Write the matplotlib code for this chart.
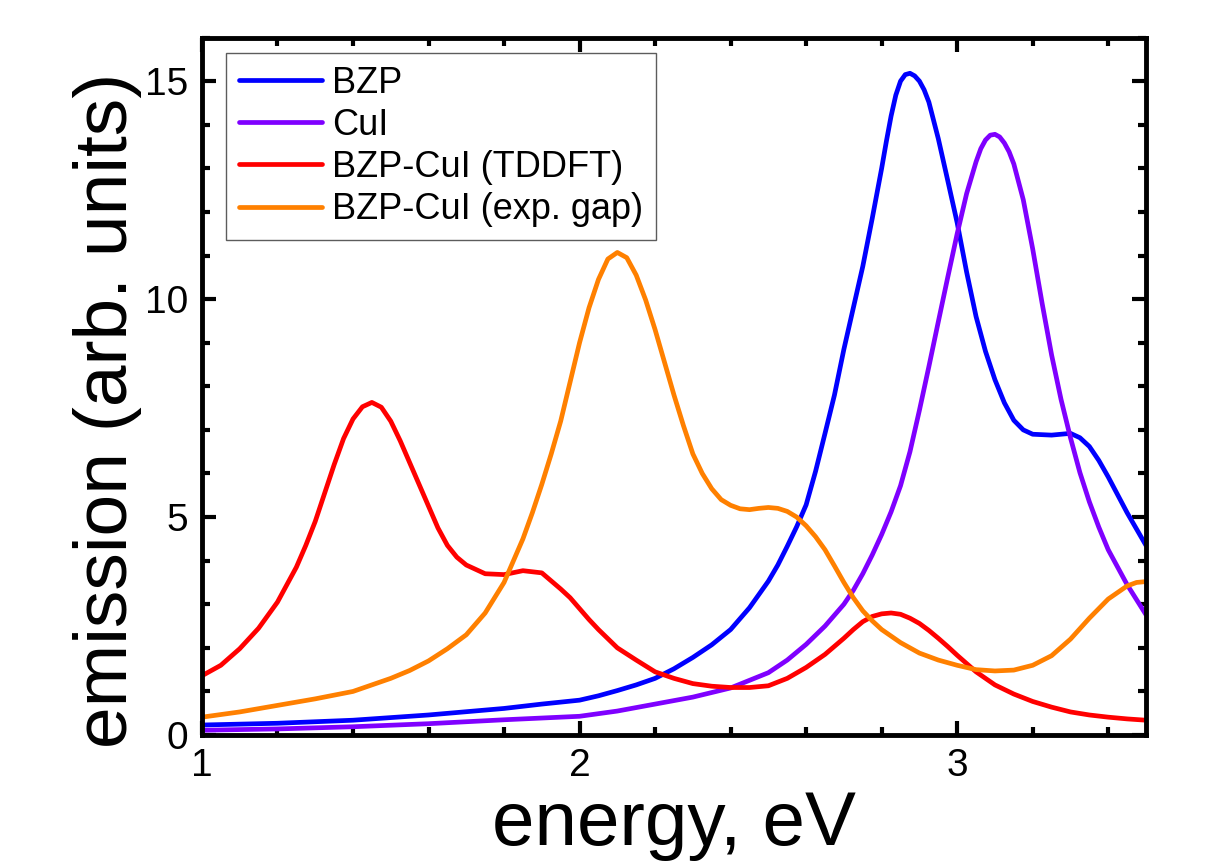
import matplotlib
matplotlib.use("Agg")
import matplotlib.pyplot as plt
from matplotlib.ticker import MultipleLocator

plt.rcParams["font.family"] = ["Liberation Sans", "DejaVu Sans"]

# values
energy_bzp = [1.0, 1.2, 1.4, 1.6, 1.8, 1.9, 2.0, 2.05, 2.1, 2.15, 2.2, 2.25, 2.3, 2.35,
              2.4, 2.45, 2.5, 2.525, 2.55, 2.575, 2.6, 2.625, 2.65, 2.675, 2.7, 2.725,
              2.75, 2.775, 2.8, 2.8125, 2.825, 2.8375, 2.85, 2.8625, 2.875, 2.8875,
              2.9, 2.9125, 2.925, 2.95, 2.975, 3.0, 3.025, 3.05, 3.075, 3.1, 3.125,
              3.15, 3.175, 3.2, 3.25, 3.3, 3.325, 3.35, 3.375, 3.4, 3.45, 3.5]
emission_bzp = [0.23, 0.27, 0.34, 0.46, 0.61, 0.71, 0.80, 0.90, 1.02, 1.15, 1.30, 1.52,
                1.78, 2.07, 2.42, 2.92, 3.53, 3.9, 4.33, 4.78, 5.28, 6.05, 6.92, 7.8,
                8.85, 9.8, 10.75, 11.85, 13.0, 13.62, 14.2, 14.68, 15.0, 15.15, 15.18,
                15.12, 15.0, 14.8, 14.52, 13.68, 12.72, 11.75, 10.62, 9.6, 8.8, 8.15,
                7.62, 7.22, 7.0, 6.9, 6.88, 6.92, 6.82, 6.62, 6.3, 5.92, 5.1, 4.35]

energy_cui = [1.0, 1.2, 1.4, 1.6, 1.8, 2.0, 2.1, 2.2, 2.3, 2.4, 2.5, 2.55, 2.6, 2.65,
              2.7, 2.725, 2.75, 2.775, 2.8, 2.825, 2.85, 2.875, 2.9, 2.925, 2.95,
              2.975, 3.0, 3.025, 3.05, 3.0625, 3.075, 3.0875, 3.1, 3.1125, 3.125,
              3.1375, 3.15, 3.175, 3.2, 3.225, 3.25, 3.275, 3.3, 3.325, 3.35, 3.375,
              3.4, 3.45, 3.5]
emission_cui = [0.11, 0.14, 0.19, 0.26, 0.35, 0.43, 0.55, 0.71, 0.87, 1.08, 1.43, 1.72,
                2.08, 2.5, 3.0, 3.32, 3.7, 4.13, 4.6, 5.12, 5.72, 6.5, 7.45, 8.45,
                9.48, 10.5, 11.5, 12.42, 13.15, 13.45, 13.65, 13.76, 13.78, 13.72,
                13.58, 13.38, 13.1, 12.28, 11.15, 9.9, 8.72, 7.7, 6.82, 6.02, 5.35,
                4.77, 4.25, 3.45, 2.76]

energy_tddft = [1.0, 1.05, 1.1, 1.15, 1.2, 1.25, 1.275, 1.3, 1.325, 1.35, 1.375, 1.4,
                1.425, 1.45, 1.475, 1.5, 1.525, 1.55, 1.575, 1.6, 1.625, 1.65, 1.675,
                1.7, 1.75, 1.8, 1.85, 1.9, 1.95, 1.975, 2.0, 2.025, 2.05, 2.1, 2.15,
                2.2, 2.25, 2.3, 2.35, 2.4, 2.45, 2.5, 2.55, 2.6, 2.65, 2.7, 2.725, 2.75,
                2.775, 2.8, 2.825, 2.85, 2.875, 2.9, 2.925, 2.95, 2.975, 3.0, 3.05,
                3.1, 3.15, 3.2, 3.25, 3.3, 3.35, 3.4, 3.45, 3.5]
emission_tddft = [1.36, 1.6, 1.98, 2.45, 3.05, 3.85, 4.35, 4.9, 5.55, 6.2, 6.8, 7.25,
                  7.53, 7.63, 7.52, 7.2, 6.75, 6.25, 5.75, 5.25, 4.75, 4.35, 4.08, 3.9,
                  3.7, 3.68, 3.77, 3.72, 3.35, 3.15, 2.9, 2.65, 2.42, 2.0, 1.72, 1.45,
                  1.3, 1.18, 1.12, 1.09, 1.09, 1.13, 1.3, 1.55, 1.85, 2.22, 2.42, 2.6,
                  2.72, 2.78, 2.8, 2.77, 2.68, 2.56, 2.4, 2.22, 2.03, 1.83, 1.45, 1.15,
                  0.94, 0.77, 0.64, 0.53, 0.46, 0.41, 0.37, 0.34]

energy_gap = [1.0, 1.1, 1.2, 1.3, 1.4, 1.5, 1.55, 1.6, 1.65, 1.7, 1.75, 1.8, 1.825,
              1.85, 1.875, 1.9, 1.925, 1.95, 1.975, 2.0, 2.025, 2.05, 2.075, 2.1,
              2.125, 2.15, 2.175, 2.2, 2.225, 2.25, 2.275, 2.3, 2.325, 2.35, 2.375,
              2.4, 2.425, 2.45, 2.475, 2.5, 2.525, 2.55, 2.575, 2.6, 2.625, 2.65,
              2.675, 2.7, 2.725, 2.75, 2.775, 2.8, 2.85, 2.9, 2.95, 3.0, 3.05, 3.1,
              3.15, 3.2, 3.25, 3.3, 3.35, 3.4, 3.45, 3.475, 3.5]
emission_gap = [0.41, 0.53, 0.68, 0.83, 1.0, 1.3, 1.48, 1.7, 1.98, 2.3, 2.8, 3.5, 4.0,
                4.5, 5.1, 5.75, 6.45, 7.2, 8.1, 9.0, 9.8, 10.45, 10.92, 11.07, 10.95,
                10.55, 9.98, 9.3, 8.55, 7.8, 7.1, 6.45, 6.0, 5.65, 5.4, 5.27, 5.19,
                5.17, 5.2, 5.22, 5.2, 5.13, 5.0, 4.8, 4.55, 4.25, 3.88, 3.5, 3.15,
                2.85, 2.62, 2.42, 2.12, 1.88, 1.72, 1.6, 1.5, 1.47, 1.49, 1.6, 1.82,
                2.2, 2.68, 3.12, 3.42, 3.5, 3.52]

series = [
    (energy_bzp, emission_bzp, "BZP", "#0000ff"),
    (energy_cui, emission_cui, "CuI", "#7f00ff"),
    (energy_tddft, emission_tddft, "BZP-CuI (TDDFT)", "#ff0000"),
    (energy_gap, emission_gap, "BZP-CuI (exp. gap)", "#ff8000"),
]

fig = plt.figure(figsize=(12.1, 8.61), dpi=100)
ax = fig.add_axes([0.1669, 0.1463, 0.7802, 0.8101])

for x, y, label, color in series:
    ax.plot(x, y, color=color, lw=3.4, label=label, solid_joinstyle="round",
            solid_capstyle="round")

ax.set_xlim(1, 3.5)
ax.set_ylim(0, 16)
ax.xaxis.set_major_locator(MultipleLocator(1))
ax.xaxis.set_minor_locator(MultipleLocator(0.2))
ax.yaxis.set_major_locator(MultipleLocator(5))
ax.yaxis.set_minor_locator(MultipleLocator(1))

for side in ax.spines.values():
    side.set_linewidth(3.5)

ax.tick_params(which="both", direction="in", top=True, right=True, width=3.0)
ax.tick_params(which="major", length=10, labelsize=28)
ax.tick_params(which="minor", length=5.5)
ax.tick_params(axis="y", which="major", pad=10)
ax.tick_params(axis="x", which="major", pad=9)

ax.set_xlabel("energy, eV", fontsize=55, labelpad=5)
ax.set_ylabel("emission (arb. units)", fontsize=54)
ax.yaxis.set_label_coords(-0.063, 0.466)

leg = ax.legend(loc="upper left", bbox_to_anchor=(0.0254, 0.978), borderaxespad=0,
                fontsize=26, frameon=True, fancybox=False, edgecolor="#333333",
                handlelength=2.3, handletextpad=0.3, labelspacing=0.2,
                borderpad=0.35)
leg.get_frame().set_linewidth(1.0)

fig.savefig("out.png", dpi=100)
